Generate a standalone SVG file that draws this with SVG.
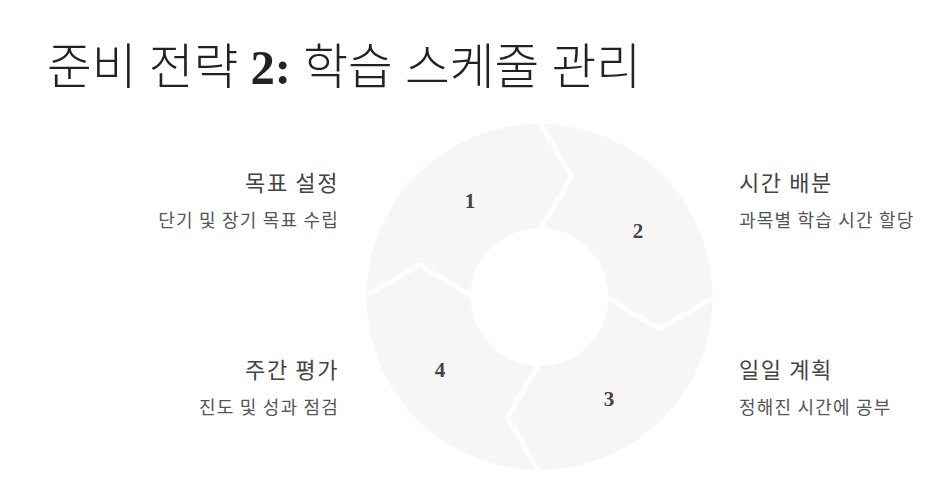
<svg xmlns="http://www.w3.org/2000/svg" width="952" height="501" viewBox="0 0 952 501">
<style>
.title{font-family:"Liberation Serif","Noto Sans CJK KR",serif;font-size:48.7px;fill:#222;font-weight:300}
.seg{fill:#f7f5f6;stroke:#fff;stroke-width:5;stroke-linejoin:miter}
.num{font-family:"Liberation Serif","Noto Sans CJK KR",serif;font-weight:bold;font-size:21px;fill:#444;text-anchor:middle}
.head{font-family:"Noto Sans CJK KR","Noto Sans",sans-serif;font-size:22px;fill:#444;letter-spacing:1.6px}
.sub{font-family:"Noto Sans CJK KR","Noto Sans",sans-serif;font-size:18px;fill:#555;letter-spacing:1.2px}
.end{text-anchor:end}
</style>
<rect width="952" height="501" fill="#fff"/>
<text class="title" x="47" y="84">준비 전략 <tspan font-weight="bold">2:</tspan> 학습 스케줄 관리</text>
<g id="connectors"></g>
<g id="node1">
<path class="seg" d="M364 297 A175.5 175.5 0 0 1 539.5 121.5 L571.6 177.2 L539.5 230.5 A66.5 66.5 0 0 0 473 297 L419.7 264.9 Z"/>
<text class="num" x="470" y="208">1</text>
<text class="head end" x="339" y="191">목표 설정</text>
<text class="sub end" x="339" y="227">단기 및 장기 목표 수립</text>
</g>
<g id="node2">
<path class="seg" d="M539.5 121.5 A175.5 175.5 0 0 1 715 297 L659.3 329.1 L606 297 A66.5 66.5 0 0 0 539.5 230.5 L571.6 177.2 Z"/>
<text class="num" x="638" y="238">2</text>
<text class="head" x="739" y="191">시간 배분</text>
<text class="sub" x="739" y="227">과목별 학습 시간 할당</text>
</g>
<g id="node3">
<path class="seg" d="M715 297 A175.5 175.5 0 0 1 539.5 472.5 L507.4 416.8 L539.5 363.5 A66.5 66.5 0 0 0 606 297 L659.3 329.1 Z"/>
<text class="num" x="609" y="406">3</text>
<text class="head" x="739" y="378">일일 계획</text>
<text class="sub" x="739" y="414">정해진 시간에 공부</text>
</g>
<g id="node4">
<path class="seg" d="M539.5 472.5 A175.5 175.5 0 0 1 364 297 L419.7 264.9 L473 297 A66.5 66.5 0 0 0 539.5 363.5 L507.4 416.8 Z"/>
<text class="num" x="440" y="377">4</text>
<text class="head end" x="339" y="378">주간 평가</text>
<text class="sub end" x="339" y="414">진도 및 성과 점검</text>
</g>
</svg>
